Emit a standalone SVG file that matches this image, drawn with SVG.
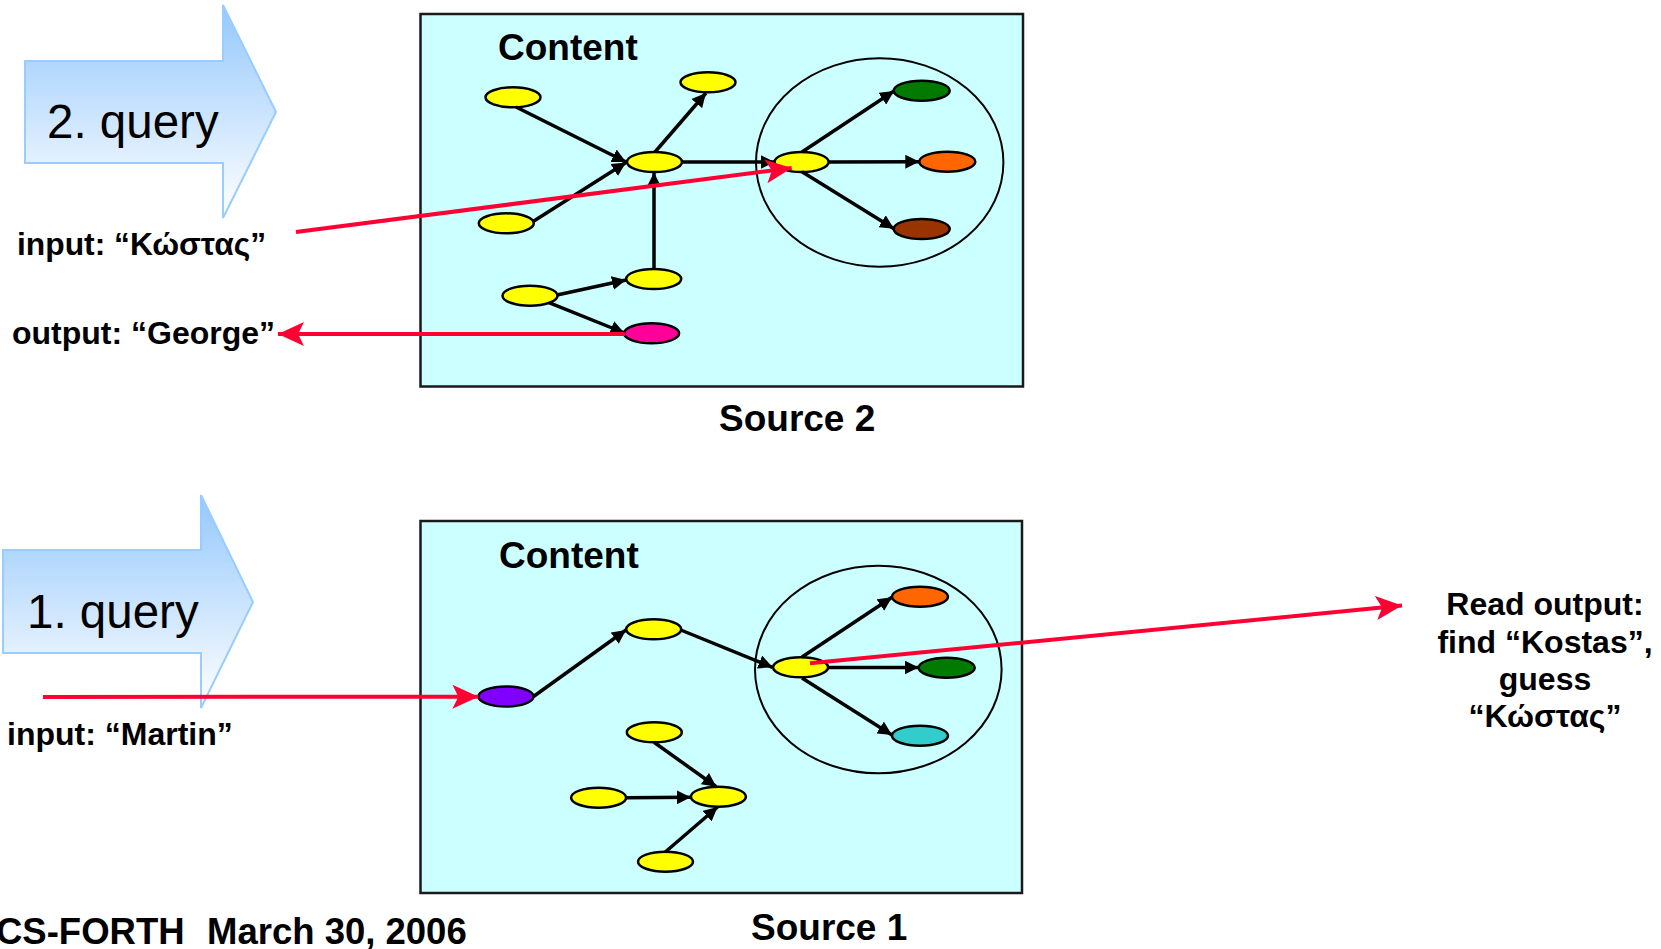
<svg xmlns="http://www.w3.org/2000/svg" width="1661" height="949" viewBox="0 0 1661 949">
<defs>
<style>
.box{fill:#CCFFFF;stroke:#1a1a1a;stroke-width:2.5}
.grp{fill:none;stroke:#000;stroke-width:2}
.n{stroke:#000;stroke-width:2.5}
.y{fill:#FFFF00}
.e{stroke:#000;stroke-width:3.5;fill:none;marker-end:url(#ab)}
.r{stroke:#FF0033;stroke-width:4;fill:none;marker-end:url(#ar)}
.blk{fill:url(#bg);stroke:#99CCFF;stroke-width:2}
.q{font-family:"Liberation Sans",Arial,sans-serif;font-size:47.5px;fill:#000}
.t{font-family:"Liberation Sans",Arial,sans-serif;font-weight:bold;fill:#000}
</style>
<linearGradient id="bg" x1="0" y1="0" x2="0" y2="1">
<stop offset="0" stop-color="#94C8FC"/>
<stop offset="1" stop-color="#FFFFFF"/>
</linearGradient>
<marker id="ab" markerUnits="userSpaceOnUse" viewBox="0 0 14 14" markerWidth="14" markerHeight="14" refX="14" refY="7" orient="auto">
<path d="M0,0 L14,7 L0,14 z" fill="#000"/>
</marker>
<marker id="ar" markerUnits="userSpaceOnUse" viewBox="0 0 26 24" markerWidth="26" markerHeight="24" refX="26" refY="12" orient="auto">
<path d="M0,0 L26,12 L0,24 L6,12 z" fill="#FF0033"/>
</marker>
</defs>

<g id="query2">
<polygon class="blk" points="25,61 223,61 223,5 276,112 223,218 223,163 25,163"/>
<text class="q" x="47" y="138">2. query</text>
</g>
<g id="query1">
<polygon class="blk" points="3,550 201,550 201,495 253,602 201,708 201,653 3,653"/>
<text class="q" x="27" y="628">1. query</text>
</g>

<g id="source2">
<rect class="box" x="420.5" y="14" width="602.5" height="372.5"/>
<text class="t" x="498" y="60" font-size="37">Content</text>
<text class="t" x="719" y="431" font-size="37">Source 2</text>
</g>
<g id="source1">
<rect class="box" x="420.5" y="521" width="601.5" height="372"/>
<text class="t" x="499" y="568" font-size="37">Content</text>
<text class="t" x="751" y="940" font-size="37">Source 1</text>
</g>

<g id="group2"><ellipse class="grp" cx="879.7" cy="162.5" rx="123.7" ry="104.2"/></g>
<g id="group1"><ellipse class="grp" cx="878.3" cy="669.5" rx="123.3" ry="103.8"/></g>

<g id="s2-a"><ellipse class="n y" cx="513" cy="97.3" rx="27.5" ry="10"/></g>
<g id="s2-b"><ellipse class="n y" cx="708" cy="82.3" rx="27.5" ry="10"/></g>
<g id="s2-c"><ellipse class="n y" cx="654.5" cy="162" rx="27.5" ry="10"/></g>
<g id="s2-d"><ellipse class="n y" cx="506.3" cy="223.3" rx="27.5" ry="10"/></g>
<g id="s2-e"><ellipse class="n y" cx="653.7" cy="279" rx="27.5" ry="10"/></g>
<g id="s2-f"><ellipse class="n y" cx="530" cy="295.7" rx="27.5" ry="10"/></g>
<g id="s2-g"><ellipse class="n" fill="#FF0099" cx="651.6" cy="333.3" rx="27.5" ry="10"/></g>
<g id="s2-h"><ellipse class="n y" cx="801.6" cy="162" rx="27" ry="10"/></g>
<g id="s2-green"><ellipse class="n" fill="#007A00" cx="921.7" cy="90.7" rx="28" ry="10"/></g>
<g id="s2-orange"><ellipse class="n" fill="#FF6600" cx="947.3" cy="161.7" rx="28" ry="10"/></g>
<g id="s2-brown"><ellipse class="n" fill="#993300" cx="921.7" cy="229" rx="28" ry="10"/></g>

<g id="s1-p"><ellipse class="n" fill="#7F00FF" cx="506" cy="696.5" rx="27.5" ry="10"/></g>
<g id="s1-q"><ellipse class="n y" cx="653.7" cy="629.3" rx="27.5" ry="10"/></g>
<g id="s1-h"><ellipse class="n y" cx="800.6" cy="667.3" rx="27.5" ry="10"/></g>
<g id="s1-orange"><ellipse class="n" fill="#FF6600" cx="920" cy="596.7" rx="28" ry="10"/></g>
<g id="s1-green"><ellipse class="n" fill="#007A00" cx="946.7" cy="667.7" rx="28" ry="10"/></g>
<g id="s1-teal"><ellipse class="n" fill="#33CCCC" cx="920" cy="735.7" rx="28" ry="10"/></g>
<g id="s1-r"><ellipse class="n y" cx="654.3" cy="732.3" rx="27.5" ry="10"/></g>
<g id="s1-s"><ellipse class="n y" cx="598.6" cy="797.7" rx="27.5" ry="10"/></g>
<g id="s1-t"><ellipse class="n y" cx="718.4" cy="796.7" rx="27.5" ry="10"/></g>
<g id="s1-u"><ellipse class="n y" cx="665.5" cy="861.7" rx="27.5" ry="10"/></g>

<g id="labels">
<text class="t" x="17" y="255" font-size="31.8">input: “Κώστας”</text>
<text class="t" x="12" y="344" font-size="32">output: “George”</text>
<text class="t" x="7" y="745" font-size="32">input: “Martin”</text>
<text class="t" font-size="32" text-anchor="middle"><tspan x="1545" y="615">Read output:</tspan><tspan x="1545" y="653">find “Kostas”,</tspan><tspan x="1545" y="690">guess</tspan><tspan x="1545" y="727">“Κώστας”</tspan></text>
<text class="t" font-size="36.5" y="944"><tspan x="-4">CS-FORTH</tspan><tspan x="207">March 30, 2006</tspan></text>
</g>

<g id="connectors">
<line class="e" x1="516" y1="107" x2="626" y2="162"/>
<line class="e" x1="532.7" y1="221.7" x2="626" y2="162.5"/>
<line class="e" x1="655" y1="152" x2="706" y2="93"/>
<line class="e" x1="654" y1="269" x2="654" y2="172.5"/>
<line class="e" x1="681.6" y1="162" x2="774.6" y2="162"/>
<line class="e" x1="557" y1="295" x2="626" y2="280"/>
<line class="e" x1="549" y1="302.7" x2="624.5" y2="333"/>
<line class="e" x1="802" y1="152" x2="894" y2="91"/>
<line class="e" x1="828.6" y1="162" x2="919.3" y2="161.7"/>
<line class="e" x1="802" y1="171.7" x2="894" y2="228.7"/>

<line class="e" x1="533.5" y1="696.5" x2="626" y2="630"/>
<line class="e" x1="680.8" y1="630" x2="772.5" y2="667.3"/>
<line class="e" x1="802" y1="657" x2="892" y2="597.3"/>
<line class="e" x1="827.8" y1="667.5" x2="918.6" y2="667.5"/>
<line class="e" x1="802" y1="678" x2="892" y2="735"/>
<line class="e" x1="654" y1="742.3" x2="716.3" y2="786.7"/>
<line class="e" x1="626" y1="797.7" x2="690.8" y2="797.2"/>
<line class="e" x1="665.3" y1="852" x2="717.6" y2="807"/>

<line class="r" x1="296" y1="232" x2="791.7" y2="168"/>
<line class="r" x1="625" y1="334" x2="278" y2="334"/>
<line class="r" x1="43" y1="697" x2="478.4" y2="696.7"/>
<line class="r" x1="810" y1="663.3" x2="1402" y2="605.5"/>
</g>
</svg>
